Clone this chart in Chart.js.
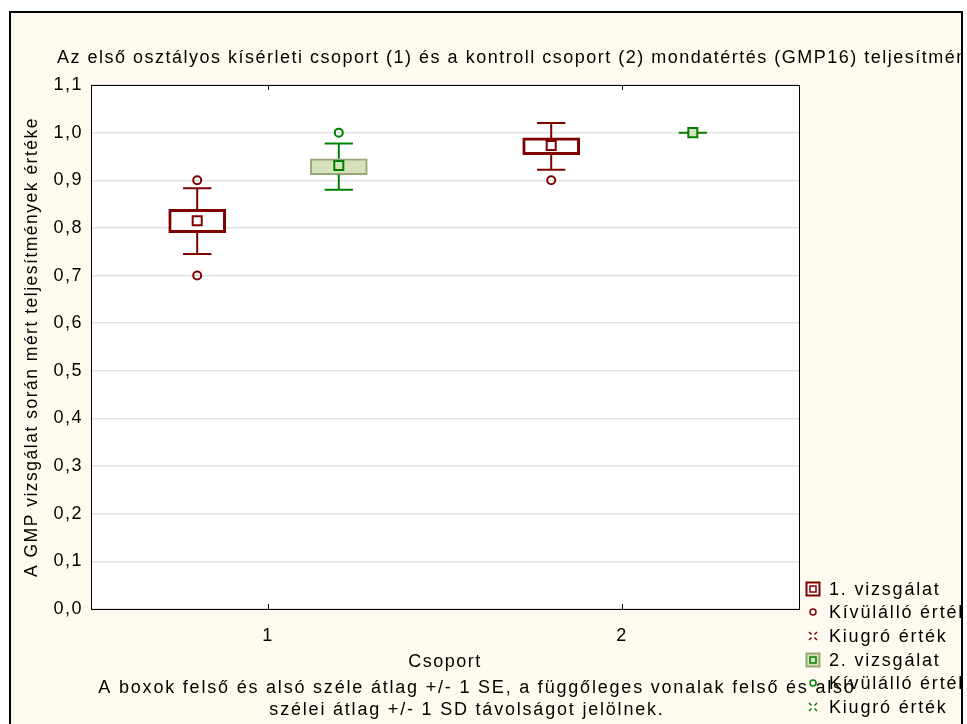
<!DOCTYPE html>
<html>
<head>
<meta charset="utf-8">
<script src="https://cdn.jsdelivr.net/npm/chart.js@4.4.1/dist/chart.umd.min.js"></script>
<style>
  html, body { margin: 0; padding: 0; background: #fff; }
  #wrap { width: 967px; height: 724px; }
</style>
</head>
<body>
<div id="wrap"><canvas id="chart" width="967" height="724"></canvas></div>
<script>
// csoportok es adatok (leolvasva az abrarol)
let groups = [1, 2];
let groupLabels = ['1', '2'];
let yTicks = [0, 0.1, 0.2, 0.3, 0.4, 0.5, 0.6, 0.7, 0.8, 0.9, 1.0, 1.1];

// 1. vizsgalat
let mean1 = [0.815, 0.973];
let seLow1 = [0.790, 0.954];
let seHigh1 = [0.839, 0.989];
let sdLow1 = [0.745, 0.922];
let sdHigh1 = [0.883, 1.020];
let outliers1 = [[0.70, 0.90], [0.90]];

// 2. vizsgalat
let mean2 = [0.931, 1.0];
let seLow2 = [0.912, 1.0];
let seHigh2 = [0.945, 1.0];
let sdLow2 = [0.880, 1.0];
let sdHigh2 = [0.977, 1.0];
let outliers2 = [[1.0], []];

let legendTexts = ['1. vizsgálat', 'Kívülálló érték', 'Kiugró érték', '2. vizsgálat', 'Kívülálló érték', 'Kiugró érték'];

const RED = '#800000';
const GREEN = '#008000';
const GREEN_FILL = '#d6e2bc';
const GREEN_EDGE = '#95a875';
const OFFSET = 0.2;
const CAP = 0.04;
const FONT = '"Liberation Sans", Arial, sans-serif';

function meanPoints(means, off) {
  return means.map((m, i) => ({ x: groups[i] + off, y: m }));
}

function boxes(lo, hi, off) {
  let out = [];
  lo.forEach((l, i) => {
    if (l !== hi[i]) out.push({ x: groups[i] + off, y: [l, hi[i]] });
  });
  return out;
}

function whiskers(lo, hi, sdLo, sdHi, off) {
  let pts = [];
  groups.forEach((g, i) => {
    let x = g + off;
    pts.push({ x: x, y: hi[i] }, { x: x, y: sdHi[i] }, { x: x, y: null });
    pts.push({ x: x - CAP, y: sdHi[i] }, { x: x + CAP, y: sdHi[i] }, { x: x, y: null });
    pts.push({ x: x, y: lo[i] }, { x: x, y: sdLo[i] }, { x: x, y: null });
    pts.push({ x: x - CAP, y: sdLo[i] }, { x: x + CAP, y: sdLo[i] }, { x: x, y: null });
  });
  return pts;
}

function outlierPoints(list, off) {
  let pts = [];
  list.forEach((vals, i) => vals.forEach((v) => pts.push({ x: groups[i] + off, y: v })));
  return pts;
}

const data = {
  datasets: [
    {
      type: 'scatter',
      label: 'átlag 1',
      data: meanPoints(mean1, -OFFSET),
      pointStyle: 'rect',
      pointRadius: 6.4,
      pointBorderWidth: 2,
      borderColor: RED,
      backgroundColor: '#ffffff',
    },
    {
      type: 'scatter',
      label: 'átlag 2',
      data: meanPoints(mean2, OFFSET),
      pointStyle: 'rect',
      pointRadius: 6.4,
      pointBorderWidth: 2,
      borderColor: GREEN,
      backgroundColor: GREEN_FILL,
    },
    {
      type: 'scatter',
      label: 'Kívülálló érték 1',
      data: outlierPoints(outliers1, -OFFSET),
      pointStyle: 'circle',
      pointRadius: 4,
      pointBorderWidth: 2,
      borderColor: RED,
      backgroundColor: 'rgba(0,0,0,0)',
    },
    {
      type: 'scatter',
      label: 'Kívülálló érték 2',
      data: outlierPoints(outliers2, OFFSET),
      pointStyle: 'circle',
      pointRadius: 4,
      pointBorderWidth: 2,
      borderColor: GREEN,
      backgroundColor: 'rgba(0,0,0,0)',
    },
    {
      type: 'line',
      label: 'SD 1',
      data: whiskers(seLow1, seHigh1, sdLow1, sdHigh1, -OFFSET),
      borderColor: RED,
      borderWidth: 2,
      pointRadius: 0,
      spanGaps: false,
    },
    {
      type: 'line',
      label: 'SD 2',
      data: whiskers(seLow2, seHigh2, sdLow2, sdHigh2, OFFSET),
      borderColor: GREEN,
      borderWidth: 2,
      pointRadius: 0,
      spanGaps: false,
    },
    {
      type: 'bar',
      label: '1. vizsgálat',
      data: boxes(seLow1, seHigh1, -OFFSET),
      backgroundColor: '#ffffff',
      borderColor: RED,
      borderWidth: 3,
      borderSkipped: false,
      barThickness: 57,
      grouped: false,
    },
    {
      type: 'bar',
      label: '2. vizsgálat',
      data: boxes(seLow2, seHigh2, OFFSET),
      backgroundColor: GREEN_FILL,
      borderColor: GREEN_EDGE,
      borderWidth: 2,
      borderSkipped: false,
      barThickness: 57,
      grouped: false,
    },
  ],
};

function drawIcon(ctx, kind, color, fill, edge, x, y) {
  ctx.save();
  if (kind === 'box') {
    ctx.fillStyle = fill;
    ctx.strokeStyle = edge;
    ctx.lineWidth = 2;
    ctx.fillRect(x - 6.5, y - 6.5, 13, 13);
    ctx.strokeRect(x - 6.5, y - 6.5, 13, 13);
    ctx.strokeStyle = color;
    ctx.lineWidth = 1.5;
    ctx.strokeRect(x - 3, y - 3, 6, 6);
  } else if (kind === 'circle') {
    ctx.strokeStyle = color;
    ctx.lineWidth = 1.5;
    ctx.beginPath();
    ctx.arc(x, y, 3, 0, Math.PI * 2);
    ctx.stroke();
  } else {
    ctx.strokeStyle = color;
    ctx.lineWidth = 1.5;
    [[-1, -1], [1, -1], [-1, 1], [1, 1]].forEach(([dx, dy]) => {
      ctx.beginPath();
      ctx.moveTo(x + dx * 1.5, y + dy * 1.5);
      ctx.lineTo(x + dx * 4, y + dy * 4);
      ctx.stroke();
    });
  }
  ctx.restore();
}

const framePlugin = {
  id: 'frame',
  beforeDraw(chart) {
    const ctx = chart.ctx;
    const a = chart.chartArea;
    ctx.save();
    ctx.fillStyle = '#ffffff';
    ctx.fillRect(0, 0, chart.width, chart.height);
    ctx.fillStyle = '#fffaf0';
    ctx.fillRect(10, 12, 952, chart.height);
    ctx.strokeStyle = '#000';
    ctx.lineWidth = 2;
    ctx.strokeRect(10, 12, 952, chart.height + 10);
    ctx.fillStyle = '#ffffff';
    ctx.fillRect(a.left, a.top, a.right - a.left, a.bottom - a.top);
    ctx.restore();
    // a szovegek szelesebb betukozzel
    if ('letterSpacing' in ctx) ctx.letterSpacing = '1.5px';
  },
  afterDraw(chart) {
    const ctx = chart.ctx;
    const a = chart.chartArea;
    ctx.save();
    // plot keret
    ctx.strokeStyle = '#000';
    ctx.lineWidth = 1;
    ctx.strokeRect(a.left + 0.5, a.top + 0.5, a.right - a.left, a.bottom - a.top);
    // belso osztasjelek
    const xs = chart.scales.x;
    groups.forEach((g) => {
      let px = Math.round(xs.getPixelForValue(g)) + 0.5;
      ctx.beginPath();
      ctx.moveTo(px, a.top);
      ctx.lineTo(px, a.top + 5);
      ctx.moveTo(px, a.bottom);
      ctx.lineTo(px, a.bottom - 5);
      ctx.stroke();
    });

    ctx.beginPath();
    ctx.rect(11, 13, 950, chart.height);
    ctx.clip();
    ctx.fillStyle = '#000';
    ctx.textBaseline = 'middle';
    ctx.font = '18px ' + FONT;
    ctx.textAlign = 'left';
    if ('letterSpacing' in ctx) ctx.letterSpacing = '1.5px';
    ctx.fillText('Az első osztályos kísérleti csoport (1) és a kontroll csoport (2) mondatértés (GMP16) teljesítménye', 57, 58);

    ctx.textAlign = 'center';
    if ('letterSpacing' in ctx) ctx.letterSpacing = '1.8px';
    ctx.fillText('A boxok felső és alsó széle átlag +/- 1 SE, a függőleges vonalak felső és alsó', 477, 688);
    ctx.fillText('szélei átlag +/- 1 SD távolságot jelölnek.', 467, 710);

    // jelmagyarazat
    const rows = [589, 612, 636, 660, 683, 707];
    const kinds = ['box', 'circle', 'cross', 'box', 'circle', 'cross'];
    ctx.textAlign = 'left';
    ctx.font = '18px ' + FONT;
    legendTexts.forEach((t, i) => {
      let first = i < 3;
      let color = first ? RED : GREEN;
      let fill = first ? '#ffffff' : GREEN_FILL;
      let edge = first ? RED : GREEN_EDGE;
      drawIcon(ctx, kinds[i], color, fill, edge, 813, rows[i]);
      ctx.fillStyle = '#000';
      ctx.fillText(t, 829, rows[i] + 1);
    });
    ctx.restore();
  },
};

const config = {
  type: 'bar',
  data: data,
  options: {
    responsive: false,
    animation: false,
    layout: {
      padding: { top: 85, right: 168, bottom: 0, left: 0 },
    },
    plugins: {
      legend: { display: false },
      tooltip: { enabled: false },
    },
    scales: {
      x: {
        type: 'linear',
        min: 0.5,
        max: 2.5,
        offset: false,
        grid: { display: false, drawTicks: false },
        border: { display: false },
        afterBuildTicks: (scale) => {
          scale.ticks = groups.map((g) => ({ value: g }));
        },
        afterFit: (scale) => {
          scale.height = 115;
        },
        ticks: {
          color: '#000',
          padding: 16,
          font: { family: FONT, size: 18 },
          callback: (v) => groupLabels[groups.indexOf(v)],
        },
        title: {
          display: true,
          text: 'Csoport',
          color: '#000',
          font: { family: FONT, size: 18 },
          padding: { top: 0, bottom: 51 },
        },
      },
      y: {
        min: 0,
        max: 1.1,
        grid: { color: '#e2e2e2', lineWidth: 1.5, drawTicks: false },
        border: { display: false },
        afterBuildTicks: (scale) => {
          scale.ticks = yTicks.map((v) => ({ value: v }));
        },
        afterFit: (scale) => {
          scale.width = 91;
        },
        ticks: {
          color: '#000',
          padding: 8,
          font: { family: FONT, size: 18 },
          callback: (v) => v.toFixed(1).replace('.', ','),
        },
        title: {
          display: true,
          text: 'A GMP vizsgálat során mért teljesítmények értéke',
          color: '#000',
          font: { family: FONT, size: 17.5 },
          padding: { top: 22, bottom: 0 },
        },
      },
    },
  },
  plugins: [framePlugin],
};

new Chart(document.getElementById('chart').getContext('2d'), config);
</script>
</body>
</html>
